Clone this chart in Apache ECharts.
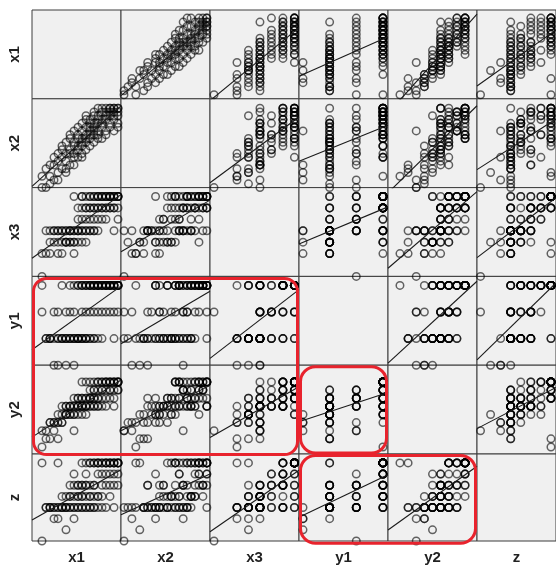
<!DOCTYPE html>
<html><head><meta charset="utf-8">
<script src="https://cdn.jsdelivr.net/npm/echarts/dist/echarts.min.js"></script>
<style>html,body{margin:0;padding:0;background:#fff;} #c{width:556px;height:566px;}</style>
</head><body><div id="c"></div>
<script>
// variable names (matrix order)
const varNames = ['x1','x2','x3','y1','y2','z'];
// observations (one value per case, same order in every array)
const x1 = [0,0,1,1,2,2,2,3,3,3, 4,4,4,4,5,5,5,5,6,6, 6,6,6,7,7,7,7,7,8,8, 8,8,8,8,9,9,9,9,9,9,
  10,10,10,10,10,10,10,11,11,11, 11,11,11,11,12,12,12,12,12,12, 12,13,13,13,13,13,13,13,14,14,
  14,14,14,14,14,15,15,15,15,15, 15,16,16,16,16,16,16,17,17,17, 17,17,17,18,18,18,18,18,18,19, 19,19,19,19,19];
const x2 = [0,3,0,5,1,6,3,8,2,6, 4,9,2,7,10,5,8,11,4,9, 12,7,5,10,13,6,9,14,8,11, 15,6,12,9,10,16,8,13,11,14,
  13,9,17,11,15,8,12,18,10,14, 16,12,19,13,11,15,17,14,13,18, 16,19,12,15,17,14,16,20,13,18,
  15,21,14,19,17,16,20,13,18,21, 17,21,15,19,18,20,14,21,17,19, 16,21,20,18,21,15,20,19,21,17, 21,19,21,20,16];
const x3 = [0,2,4,2,3,4,2,3,4,4, 3,4,2,4,3,4,2,4,3,4, 3,4,3,4,3,4,3,4,7,3, 4,4,3,2,5,4,4,6,3,4,
  7,5,4,6,4,3,7,6,5,4, 7,6,3,4,7,6,4,5,7,4, 6,7,5,6,4,7,6,4,7,6,
  7,4,6,7,5,7,6,5,7,6, 7,7,6,7,6,7,5,7,6,7, 7,6,7,7,6,4,7,6,7,7, 7,5,7,6,7];
const y1 = [3,4,2,2,2,2,2,2,3,1, 2,3,1,2,2,2,2,4,1,2, 2,3,2,3,2,2,4,2,4,2, 1,3,2,2,2,2,4,2,2,4,
  4,3,2,4,2,4,2,4,2,4, 3,2,4,2,4,3,4,2,4,2, 4,4,3,4,2,4,2,4,4,3,
  4,2,4,4,4,4,4,3,4,4, 2,4,3,4,4,4,4,4,4,4, 3,4,4,4,4,2,4,4,3,4, 4,3,4,4,4];
const y2 = [2,0,2,1,3,1,3,3,2,3, 1,3,3,4,4,3,5,3,4,5, 4,5,4,5,4,5,4,5,4,5, 2,6,5,4,5,6,4,5,6,5,
  8,5,6,5,5,6,4,6,5,8, 5,6,4,5,6,7,5,6,8,5, 6,7,6,8,5,6,5,7,8,6,
  7,5,8,6,5,8,7,6,8,5, 7,8,7,8,5,6,8,8,7,8, 6,8,7,8,5,7,8,8,6,8, 8,7,8,8,7];
const z = [0,7,3,3,3,3,3,2,3,3, 7,3,2,3,3,3,3,4,1,3, 4,3,3,4,3,5,4,3,6,3, 2,5,4,3,5,4,3,5,3,4,
  7,5,4,3,5,3,4,6,5,4, 3,7,5,3,7,5,4,3,7,4, 3,7,3,5,4,7,3,5,7,4,
  7,3,6,7,4,7,5,4,7,6, 3,7,3,7,5,7,6,7,7,6, 5,7,4,7,6,3,7,7,5,7, 7,6,7,5,7];

const cols = {x1, x2, x3, y1, y2, z};
// axis extents when a variable is on the horizontal / vertical axis
const hRange = {x1:[-2.5,19.75], x2:[-0.76,21.8], x3:[-0.35,7.4], y1:[0.85,4.19], y2:[-1.47,9.47], z:[-0.35,7.5]};
const vRange = {x1:[-1,21], x2:[0,23.5], x3:[0,7.78], y1:[1,4.34], y2:[-0.86,10.06], z:[0,7.8]};

const L0 = 32, T0 = 10, CW = 89, CH = 88.8;
const labelStyle = {fontFamily:'Liberation Sans, Arial, sans-serif', fontWeight:'bold', fontSize:15, color:'#222'};

function fit(xs, ys){
  const n = xs.length;
  let mx=0,my=0; for(let i=0;i<n;i++){mx+=xs[i];my+=ys[i];} mx/=n; my/=n;
  let sxy=0,sxx=0; for(let i=0;i<n;i++){sxy+=(xs[i]-mx)*(ys[i]-my); sxx+=(xs[i]-mx)*(xs[i]-mx);}
  const b = sxy/sxx; return [my-b*mx, b];
}

const grids=[], xAxes=[], yAxes=[], series=[];
for(let r=0;r<6;r++){
  for(let c=0;c<6;c++){
    const idx = grids.length;
    const hv = varNames[c], vv = varNames[r];
    grids.push({left:L0+c*CW, top:T0+r*CH, width:CW, height:CH, show:true,
      backgroundColor:'#f0f0f0', borderColor:'#3c3c3c', borderWidth:1});
    xAxes.push({type:'value', gridIndex:idx, min:hRange[hv][0], max:hRange[hv][1],
      show: r===5, name: r===5 ? hv : '', nameLocation:'middle', nameGap:9, nameTextStyle:labelStyle,
      axisLine:{show:false}, axisTick:{show:false}, axisLabel:{show:false}, splitLine:{show:false}});
    yAxes.push({type:'value', gridIndex:idx, min:vRange[vv][0], max:vRange[vv][1],
      show: c===0, name: c===0 ? vv : '', nameLocation:'middle', nameGap:10, nameRotate:90, nameTextStyle:labelStyle,
      axisLine:{show:false}, axisTick:{show:false}, axisLabel:{show:false}, splitLine:{show:false}});
    if(r===c) continue;
    const xs = cols[hv], ys = cols[vv];
    series.push({type:'scatter', xAxisIndex:idx, yAxisIndex:idx, symbol:'circle', symbolSize:7.5, clip:true, silent:true,
      itemStyle:{color:'rgba(0,0,0,0)', borderColor:'rgba(0,0,0,0.75)', borderWidth:1.5},
      data: xs.map((v,i)=>[v, ys[i]])});
    const [a,b] = fit(xs, ys);
    const x0 = hRange[hv][0], x1e = hRange[hv][1];
    series.push({type:'line', xAxisIndex:idx, yAxisIndex:idx, symbol:'none', clip:true, silent:true, z:3,
      lineStyle:{color:'#1a1a1a', width:1.1}, data:[[x0, a+b*x0],[x1e, a+b*x1e]]});
  }
}

const red = {fill:'none', stroke:'#e8232d', lineWidth:3};
const chart = echarts.init(document.getElementById('c'), null, {renderer:'canvas'});
chart.setOption({
  animation:false,
  backgroundColor:'#fff',
  grid:grids, xAxis:xAxes, yAxis:yAxes, series:series,
  graphic:[
    {type:'rect', z:100, shape:{x:L0+1.5, y:T0+3*CH+2, width:3*CW-2.5-0.5, height:2*CH-1.5, r:13}, style:red},
    {type:'rect', z:100, shape:{x:L0+3*CW+1.5, y:T0+4*CH+1.5, width:CW-3, height:CH-2.5, r:15}, style:red},
    {type:'rect', z:100, shape:{x:L0+3*CW+1.5, y:T0+5*CH+1.5, width:2*CW-3, height:CH-1, r:15}, style:red}
  ]
});
</script></body></html>
